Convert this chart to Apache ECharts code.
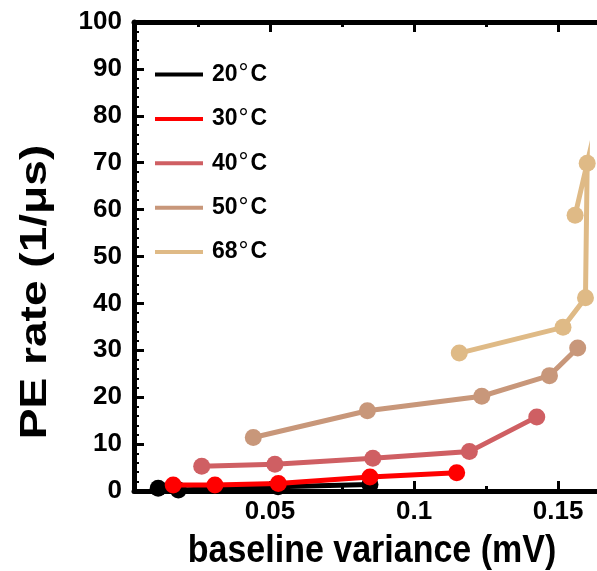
<!DOCTYPE html>
<html><head><meta charset="utf-8">
<script src="https://cdn.jsdelivr.net/npm/echarts@6/dist/echarts.min.js"></script>
<style>html,body{margin:0;padding:0;background:#fff}#c{width:597px;height:571px}</style>
</head><body><div id="c"></div>
<script>
// ---- data ----
const seriesNames = ['20°C', '30°C', '40°C', '50°C', '68°C'];
const seriesColors = ['#000000', '#ff0000', '#cf5f63', '#c8977a', '#dfba86'];
const x20 = [0.0112, 0.0182, 0.0528, 0.0847];
const y20 = [0.6, 0.2, 0.9, 1.4];
const x30 = [0.0164, 0.0309, 0.0529, 0.0847, 0.1148];
const y30 = [1.3, 1.3, 1.6, 3.0, 3.9];
const x40 = [0.0263, 0.0517, 0.0857, 0.1192, 0.1426];
const y40 = [5.3, 5.7, 7.0, 8.4, 15.8];
const x50 = [0.0442, 0.0838, 0.1235, 0.1470, 0.1568];
const y50 = [11.4, 17.1, 20.2, 24.6, 30.5];
const x68 = [0.1157, 0.1517, 0.1595, 0.1601, 0.1559];
const y68 = [29.4, 34.9, 41.2, 69.9, 58.8];
const xMajorTicks = [0.05, 0.1, 0.15];
const xMinorTicks = [0.025, 0.075, 0.125];
const xTitle = 'baseline variance (mV)';
const yTitle = 'PE rate (1/\u03bcs)';

const xs = [x20, x30, x40, x50, x68];
const ys = [y20, y30, y40, y50, y68];

const FONT = '"Liberation Sans", Arial, sans-serif';
const XMIN = 0.0028, XMAX = 0.1635;

function xAxisDef(position, ticks, len, width, showLine, showLabel) {
  return {
    type: 'value', position: position, min: XMIN, max: XMAX,
    axisLine: { show: showLine, onZero: false, lineStyle: { color: '#000', width: 5 } },
    axisTick: { show: true, inside: true, length: len, customValues: ticks, lineStyle: { color: '#000', width: width } },
    axisLabel: { show: showLabel, customValues: ticks, fontSize: 26, fontWeight: 'bold', fontFamily: FONT, color: '#000', margin: 8 },
    splitLine: { show: false }
  };
}

const chart = echarts.init(document.getElementById('c'), null, { renderer: 'canvas' });
chart.setOption({
  animation: false,
  backgroundColor: '#fff',
  grid: { left: 134, right: 0, top: 22, bottom: 80, containLabel: false },
  xAxis: [
    xAxisDef('bottom', xMajorTicks, 10, 3, true, true),
    xAxisDef('bottom', xMinorTicks, 5, 3, false, false),
    xAxisDef('top', xMajorTicks, 10, 3, true, false),
    xAxisDef('top', xMinorTicks, 5, 3, false, false)
  ],
  yAxis: {
    type: 'value', min: 0, max: 100, interval: 10,
    axisLine: { show: true, onZero: false, lineStyle: { color: '#000', width: 5 } },
    axisTick: { show: true, inside: true, length: 10, lineStyle: { color: '#000', width: 3 } },
    minorTick: { show: true, splitNumber: 5, length: 5, lineStyle: { color: '#000', width: 2 } },
    axisLabel: { fontSize: 26, fontWeight: 'bold', fontFamily: FONT, color: '#000', margin: 12 },
    splitLine: { show: false }
  },
  legend: {
    orient: 'vertical', left: 155, top: 62, padding: 0,
    itemWidth: 48, itemHeight: 4, itemGap: 19.4, icon: 'rect',
    data: seriesNames,
    formatter: function (name) {
      const parts = name.split('°');
      return '{n|' + parts[0] + '}{d|°}{n|' + parts[1] + '}';
    },
    textStyle: {
      color: '#000', padding: [0, 0, 0, 4],
      rich: {
        n: { fontSize: 23, fontWeight: 'bold', fontFamily: FONT, color: '#000', lineHeight: 24 },
        d: { fontSize: 25, fontFamily: FONT, color: '#000', lineHeight: 24, padding: [0, 2, 0, 1] }
      }
    }
  },
  graphic: [
    { type: 'text', x: 36, y: 292, rotation: Math.PI / 2, scaleX: 1.28,
      style: { text: yTitle, font: 'bold 36px ' + FONT, fill: '#000', textAlign: 'center', textVerticalAlign: 'middle' } },
    { type: 'text', x: 372, y: 551, scaleY: 1.12,
      style: { text: xTitle, font: 'bold 34px ' + FONT, fill: '#000', textAlign: 'center', textVerticalAlign: 'middle' } }
  ],
  series: seriesNames.map((name, i) => ({
    name: name, type: 'line', xAxisIndex: 0,
    data: xs[i].map((x, j) => [x, ys[i][j]]),
    symbol: 'circle', symbolSize: 17,
    itemStyle: { color: seriesColors[i] },
    lineStyle: { color: seriesColors[i], width: 5, join: 'miter', miterLimit: 10 },
    emphasis: { disabled: true },
    z: 2 + i
  }))
});
</script></body></html>
